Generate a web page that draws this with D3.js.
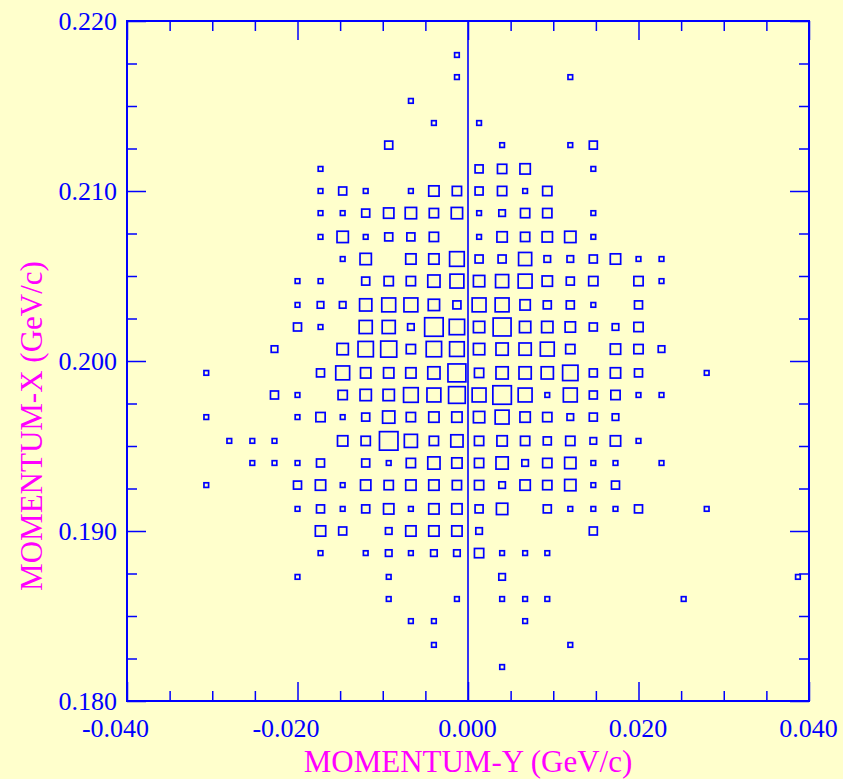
<!DOCTYPE html>
<html>
<head>
<meta charset="utf-8">
<script src="https://cdn.jsdelivr.net/npm/d3@7"></script>
<style>
  html, body { margin: 0; padding: 0; background: #ffffcc; }
  svg { display: block; font-family: "Liberation Serif", "Times New Roman", serif; }
</style>
</head>
<body>
<figure id="box" style="margin:0"></figure>
<script>
// bin centres along MOMENTUM-Y (horizontal)
const momY = [-0.0387, -0.0360, -0.0333, -0.0307, -0.0280, -0.0253, -0.0227, -0.0200, -0.0173, -0.0147,
              -0.0120, -0.0093, -0.0067, -0.0040, -0.0013, 0.0013, 0.0040, 0.0067, 0.0093, 0.0120,
              0.0147, 0.0173, 0.0200, 0.0227, 0.0253, 0.0280, 0.0307, 0.0333, 0.0360, 0.0387];

// bin centres along MOMENTUM-X (vertical), top row first
const momX = [0.2193, 0.2180, 0.2167, 0.2153, 0.2140, 0.2127, 0.2113, 0.2100, 0.2087, 0.2073,
              0.2060, 0.2047, 0.2033, 0.2020, 0.2007, 0.1993, 0.1980, 0.1967, 0.1953, 0.1940,
              0.1927, 0.1913, 0.1900, 0.1887, 0.1873, 0.1860, 0.1847, 0.1833, 0.1820, 0.1807];

// entries per bin, one row per momX bin
const counts = [
  [0,0,0,0,0,0,0,0,0,0,0,0,0,0,0,0,0,0,0,0,0,0,0,0,0,0,0,0,0,0],
  [0,0,0,0,0,0,0,0,0,0,0,0,0,0,1,0,0,0,0,0,0,0,0,0,0,0,0,0,0,0],
  [0,0,0,0,0,0,0,0,0,0,0,0,0,0,1,0,0,0,0,1,0,0,0,0,0,0,0,0,0,0],
  [0,0,0,0,0,0,0,0,0,0,0,0,1,0,0,0,0,0,0,0,0,0,0,0,0,0,0,0,0,0],
  [0,0,0,0,0,0,0,0,0,0,0,0,0,1,0,1,0,0,0,0,0,0,0,0,0,0,0,0,0,0],
  [0,0,0,0,0,0,0,0,0,0,0,3,0,0,0,0,1,0,0,1,3,0,0,0,0,0,0,0,0,0],
  [0,0,0,0,0,0,0,0,1,0,0,0,0,0,0,3,4,5,0,0,1,0,0,0,0,0,0,0,0,0],
  [0,0,0,0,0,0,0,0,1,3,1,0,1,5,4,3,4,1,4,0,0,0,0,0,0,0,0,0,0,0],
  [0,0,0,0,0,0,0,0,1,1,3,5,6,4,6,1,2,4,4,0,1,0,0,0,0,0,0,0,0,0],
  [0,0,0,0,0,0,0,0,1,6,1,3,3,4,0,1,5,4,5,6,1,0,0,0,0,0,0,0,0,0],
  [0,0,0,0,0,0,0,0,0,1,6,0,5,5,10,3,3,8,2,2,3,5,1,1,0,0,0,0,0,0],
  [0,0,0,0,0,0,0,1,1,0,3,4,4,7,9,6,8,9,5,3,4,0,4,1,0,0,0,0,0,0],
  [0,0,0,0,0,0,0,1,2,2,7,9,9,6,3,9,9,5,3,3,1,0,3,0,0,0,0,0,0,0],
  [0,0,0,0,0,0,0,3,1,0,8,8,2,16,11,6,15,6,6,5,3,2,4,0,0,0,0,0,0,0],
  [0,0,0,0,0,0,2,0,0,6,11,12,4,11,10,6,7,7,9,4,0,5,4,2,0,0,0,0,0,0],
  [0,0,0,1,0,0,0,0,3,9,5,5,5,7,15,4,7,7,7,11,3,5,3,0,0,1,0,0,0,0],
  [0,0,0,0,0,0,3,1,0,4,6,6,10,9,13,9,16,9,1,9,3,4,1,1,0,0,0,0,0,0],
  [0,0,0,1,0,0,0,1,4,1,3,7,4,5,5,6,9,5,4,2,3,2,0,0,0,0,0,0,0,0],
  [0,0,0,0,1,1,1,0,0,5,4,16,8,4,7,4,5,4,3,4,2,5,1,0,0,0,0,0,0,0],
  [0,0,0,0,0,1,1,1,3,0,3,1,4,7,5,4,7,2,4,6,1,1,0,1,0,0,0,0,0,0],
  [0,0,0,1,0,0,0,3,5,1,5,4,5,5,4,4,2,5,4,6,1,3,0,0,0,0,0,0,0,0],
  [0,0,0,0,0,0,0,1,3,1,3,5,1,5,5,3,6,0,3,1,1,1,3,0,0,1,0,0,0,0],
  [0,0,0,0,0,0,0,0,5,3,0,2,5,5,5,2,0,0,0,0,3,0,0,0,0,0,0,0,0,0],
  [0,0,0,0,0,0,0,0,1,0,1,2,1,2,2,4,1,1,1,0,0,0,0,0,0,0,0,0,0,0],
  [0,0,0,0,0,0,0,1,0,0,0,1,0,0,0,0,2,0,0,0,0,0,0,0,0,0,0,0,0,1],
  [0,0,0,0,0,0,0,0,0,0,0,1,0,0,1,0,1,1,1,0,0,0,0,0,1,0,0,0,0,0],
  [0,0,0,0,0,0,0,0,0,0,0,0,1,1,0,0,0,1,0,0,0,0,0,0,0,0,0,0,0,0],
  [0,0,0,0,0,0,0,0,0,0,0,0,0,1,0,0,0,0,0,1,0,0,0,0,0,0,0,0,0,0],
  [0,0,0,0,0,0,0,0,0,0,0,0,0,0,0,0,1,0,0,0,0,0,0,0,0,0,0,0,0,0],
  [0,0,0,0,0,0,0,0,0,0,0,0,0,0,0,0,0,0,0,0,0,0,0,0,0,0,0,0,0,0]
];

const xMajor = [-0.04, -0.02, 0, 0.02, 0.04];
const xMinor = [-0.035, -0.03, -0.025, -0.015, -0.01, -0.005, 0.005, 0.01, 0.015, 0.025, 0.03, 0.035];
const yMajor = [0.18, 0.19, 0.20, 0.21, 0.22];
const yMinor = [0.1825, 0.185, 0.1875, 0.1925, 0.195, 0.1975, 0.2025, 0.205, 0.2075, 0.2125, 0.215, 0.2175];

const width = 843, height = 779;
const plotLeft = 127, plotRight = 809, plotTop = 21, plotBottom = 701;
const blue = "#0000ff", magenta = "#ff00ff";

const svg = d3.select("figure#box").append("svg")
  .attr("width", width)
  .attr("height", height);

svg.append("rect")
  .attr("width", width).attr("height", height)
  .attr("fill", "#ffffcc");

const x = d3.scaleLinear().domain([-0.04, 0.04]).range([plotLeft, plotRight]);
const y = d3.scaleLinear().domain([0.18, 0.22]).range([plotBottom, plotTop]);
const side = d3.scaleSqrt().domain([0, 16]).range([0, 18.5]);

const fmt = d => d.toFixed(3);

// ticks point inwards on every side
function styleAxis(g) {
  g.select(".domain").remove();
  g.selectAll("line").attr("stroke", blue).attr("stroke-width", 1.5);
  g.selectAll("text").attr("fill", blue).style("font-size", "26px")
    .style("font-family", "'Liberation Serif', serif");
}

svg.append("g")
  .attr("transform", "translate(0," + plotBottom + ")")
  .call(d3.axisBottom(x).tickValues(xMajor).tickSize(-19).tickSizeOuter(0).tickFormat(fmt))
  .call(styleAxis)
  .selectAll("text")
  .attr("y", 36).attr("dy", null)
  .attr("dx", d => d < 0 ? -12 : -1);

svg.append("g")
  .attr("transform", "translate(0," + plotBottom + ")")
  .call(d3.axisBottom(x).tickValues(xMinor).tickSize(-10).tickSizeOuter(0).tickFormat(""))
  .call(styleAxis);

svg.append("g")
  .attr("transform", "translate(0," + plotTop + ")")
  .call(d3.axisTop(x).tickValues(xMajor).tickSize(-19).tickSizeOuter(0).tickFormat(""))
  .call(styleAxis);

svg.append("g")
  .attr("transform", "translate(0," + plotTop + ")")
  .call(d3.axisTop(x).tickValues(xMinor).tickSize(-10).tickSizeOuter(0).tickFormat(""))
  .call(styleAxis);

svg.append("g")
  .attr("transform", "translate(" + plotLeft + ",0)")
  .call(d3.axisLeft(y).tickValues(yMajor).tickSize(-19).tickSizeOuter(0).tickPadding(10).tickFormat(fmt))
  .call(styleAxis);

svg.append("g")
  .attr("transform", "translate(" + plotLeft + ",0)")
  .call(d3.axisLeft(y).tickValues(yMinor).tickSize(-10).tickSizeOuter(0).tickFormat(""))
  .call(styleAxis);

svg.append("g")
  .attr("transform", "translate(" + plotRight + ",0)")
  .call(d3.axisRight(y).tickValues(yMajor).tickSize(-19).tickSizeOuter(0).tickFormat(""))
  .call(styleAxis);

svg.append("g")
  .attr("transform", "translate(" + plotRight + ",0)")
  .call(d3.axisRight(y).tickValues(yMinor).tickSize(-10).tickSizeOuter(0).tickFormat(""))
  .call(styleAxis);

// frame
svg.append("rect")
  .attr("x", plotLeft).attr("y", plotTop)
  .attr("width", plotRight - plotLeft).attr("height", plotBottom - plotTop)
  .attr("fill", "none")
  .attr("stroke", blue)
  .attr("stroke-width", 2);

// zero line
svg.append("line")
  .attr("x1", x(0)).attr("x2", x(0))
  .attr("y1", plotTop).attr("y2", plotBottom)
  .attr("stroke", blue)
  .attr("stroke-width", 1.6);

// boxes
const cells = [];
counts.forEach((row, j) => row.forEach((c, i) => {
  if (c > 0) cells.push({py: momY[i], px: momX[j], n: c});
}));

svg.append("g").selectAll("rect")
  .data(cells)
  .enter()
  .append("rect")
  .attr("x", d => x(d.py) - side(d.n) / 2)
  .attr("y", d => y(d.px) - side(d.n) / 2)
  .attr("width", d => side(d.n))
  .attr("height", d => side(d.n))
  .attr("fill", "none")
  .attr("stroke", blue)
  .attr("stroke-width", 1.7);

// axis titles
svg.append("text")
  .attr("x", 468).attr("y", 772)
  .attr("text-anchor", "middle")
  .attr("fill", magenta)
  .style("font-size", "31px")
  .text("MOMENTUM-Y (GeV/c)");

svg.append("text")
  .attr("transform", "translate(42,426) rotate(-90)")
  .attr("text-anchor", "middle")
  .attr("fill", magenta)
  .style("font-size", "31px")
  .text("MOMENTUM-X (GeV/c)");
</script>
</body>
</html>
